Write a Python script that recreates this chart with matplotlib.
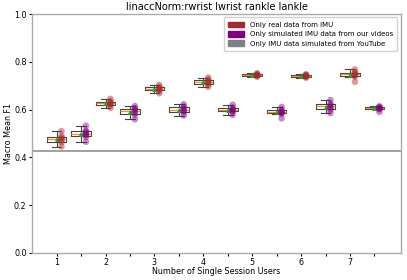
import numpy as np
import matplotlib.pyplot as plt
from matplotlib.patches import Patch

users = [1, 2, 3, 4, 5, 6, 7]

real_imu = [
    [0.445, 0.462, 0.470, 0.478, 0.483, 0.490, 0.510],
    [0.607, 0.617, 0.622, 0.626, 0.630, 0.635, 0.645],
    [0.668, 0.678, 0.683, 0.687, 0.690, 0.695, 0.703],
    [0.695, 0.705, 0.710, 0.716, 0.720, 0.726, 0.734],
    [0.737, 0.741, 0.743, 0.745, 0.746, 0.748, 0.752],
    [0.733, 0.737, 0.739, 0.741, 0.743, 0.745, 0.748],
    [0.716, 0.738, 0.742, 0.748, 0.752, 0.756, 0.768],
]

sim_videos = [
    [0.465, 0.485, 0.492, 0.497, 0.502, 0.507, 0.512, 0.532],
    [0.559, 0.578, 0.585, 0.595, 0.600, 0.606, 0.615],
    [0.575, 0.588, 0.594, 0.600, 0.606, 0.612, 0.622],
    [0.578, 0.590, 0.594, 0.598, 0.602, 0.608, 0.620],
    [0.563, 0.582, 0.586, 0.591, 0.594, 0.600, 0.611],
    [0.585, 0.598, 0.606, 0.613, 0.618, 0.625, 0.640],
    [0.590, 0.601, 0.604, 0.606, 0.608, 0.610, 0.614],
]

baseline = 0.425

legend_labels = ["Only real data from IMU",
                 "Only simulated IMU data from our videos",
                 "Only IMU data simulated from YouTube"]
colors = ["#a52a2a", "#800080", "#808080"]


def draw_group(ax, data, positions, color):
    box_kw = dict(color="#444444", linewidth=0.8)
    ax.boxplot(data, positions=positions, widths=0.4, showmeans=True,
               showfliers=False, manage_ticks=False,
               boxprops=box_kw, whiskerprops=box_kw, capprops=box_kw,
               medianprops=dict(color="#ff8c1a", linewidth=0.9),
               meanprops=dict(marker="^", markerfacecolor="#2ca02c",
                              markeredgecolor="#2ca02c", markersize=2.5))
    for pos, vals in zip(positions, data):
        xs = np.full(len(vals), pos + 0.1)
        ax.scatter(xs, vals, s=22, color=color, alpha=0.45,
                   edgecolors="none", zorder=3)


fig = plt.figure(figsize=(4.07, 2.8), dpi=100)
ax = fig.add_axes([0.079, 0.097, 0.906, 0.853])

pos_real = [u for u in users]
pos_sim = [u + 0.5 for u in users]
draw_group(ax, real_imu, pos_real, colors[0])
draw_group(ax, sim_videos, pos_sim, colors[1])

ax.axhline(baseline, color="#999999", linewidth=1.3)

ax.set_xlim(0.5, 8.04)
ax.set_ylim(0, 1.0)
ticks = sorted(pos_real + pos_sim)
ax.set_xticks(ticks)
ax.set_xticklabels([str(int(t)) if t == int(t) else "" for t in ticks])
ax.set_yticks([0.0, 0.2, 0.4, 0.6, 0.8, 1.0])
ax.tick_params(labelsize=5.8, length=2, width=0.8, pad=2)
for s in ax.spines.values():
    s.set_color("#aaaaaa")
    s.set_linewidth(1.0)

ax.set_title("linaccNorm:rwrist lwrist rankle lankle", fontsize=7, pad=3)
ax.set_xlabel("Number of Single Session Users", fontsize=5.8, labelpad=0)
ax.set_ylabel("Macro Mean F1", fontsize=5.8, labelpad=1)

handles = [Patch(color=c, label=l) for c, l in zip(colors, legend_labels)]
ax.legend(handles=handles, loc="upper right", fontsize=5,
          handlelength=2.4, handleheight=0.9, borderpad=0.6,
          labelspacing=0.45, framealpha=0.9)

fig.savefig("out.png", dpi=100)
